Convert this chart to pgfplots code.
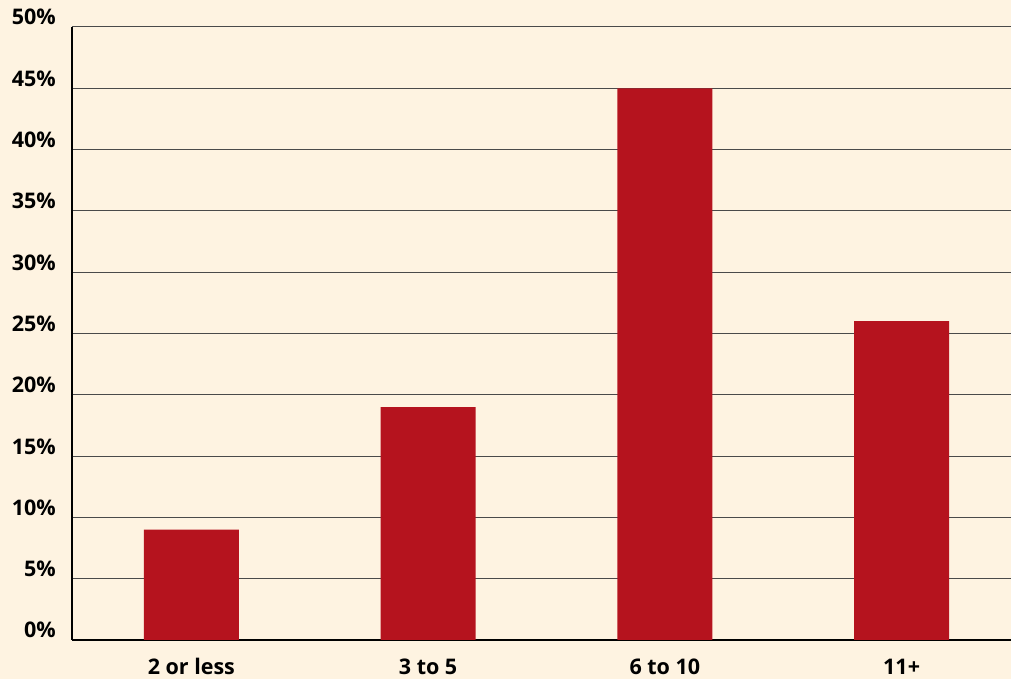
\documentclass[border=0pt]{standalone}
\usepackage{pgfplots}
\pgfplotsset{compat=1.18}
\usepackage{fontspec}
\setmainfont{Open Sans}
\definecolor{bgcream}{HTML}{FEF3E1}
\definecolor{barred}{HTML}{B5131E}
\definecolor{gridgray}{HTML}{4A4A4A}
\begin{document}
\begin{tikzpicture}[x=1pt,y=1pt]
\fill[bgcream] (-72,-39) rectangle (939,640);
\path[use as bounding box] (-72,-39) rectangle (939,640);
\begin{axis}[
    at={(0,0)}, anchor=south west,
    scale only axis,
    width=939pt, height=613pt,
    xmin=-0.504, xmax=3.462,
    ymin=0, ymax=50,
    axis lines=left,
    axis line style={-, black, line width=1.2pt},
    xtick={0,1,2,3},
    xticklabels={2 or less,3 to 5,6 to 10,11+},
    ytick={0,5,...,50},
    yticklabels={0\%,5\%,10\%,15\%,20\%,25\%,30\%,35\%,40\%,45\%,50\%},
    major tick length=0pt,
    tick style={draw=none},
    ymajorgrids=true,
    grid style={gridgray, line width=1pt},
    tick label style={font=\fontsize{21.5}{24}\selectfont\bfseries, text=black},
    yticklabel style={anchor=base east, inner sep=0pt, xshift=-16pt, yshift=2pt},
    xticklabel style={anchor=base, inner sep=0pt, yshift=-34pt},
]
\addplot[ybar, bar width=95pt, fill=barred, draw=none] coordinates {
    (0, 9)
    (1, 19)
    (2, 45)
    (3, 26)
};
\end{axis}
\end{tikzpicture}
\end{document}
